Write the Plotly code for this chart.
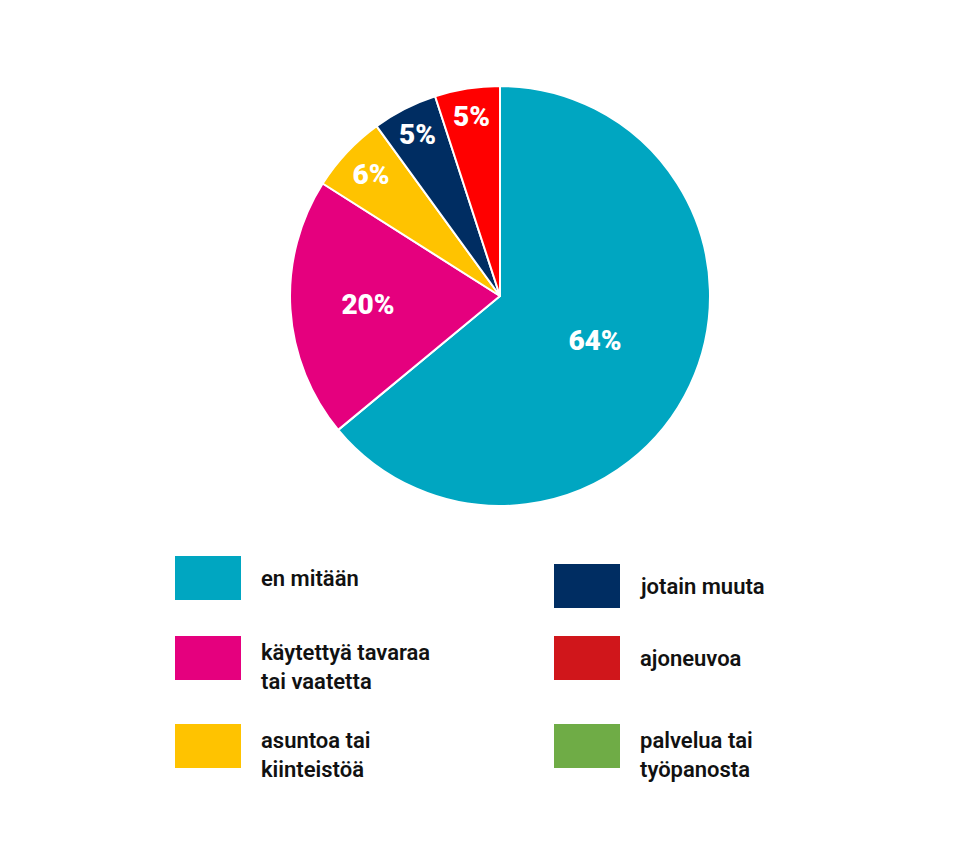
import plotly.graph_objects as go

labels = ["en mitään", "käytettyä tavaraa<br>tai vaatetta", "asuntoa tai<br>kiinteistöä",
          "jotain muuta", "ajoneuvoa", "palvelua tai<br>työpanosta"]
values = [64, 20, 6, 5, 5, 0]
pie_colors = ["#00A6C1", "#E5007E", "#FFC300", "#002D62", "#FF0000", "#6FAC46"]
legend_colors = ["#00A6C1", "#E5007E", "#FFC300", "#002D62", "#D0161B", "#6FAC46"]

W, H = 980, 857
fig = go.Figure(go.Pie(
    labels=labels, values=values, sort=False, direction="clockwise", rotation=0,
    marker=dict(colors=pie_colors, line=dict(color="white", width=2)),
    texttemplate="%{percent:.0%}", textposition="inside", insidetextorientation="horizontal",
    textfont=dict(family="Roboto", size=28, color="white", weight=900),
    domain=dict(x=[282/W, 702/W], y=[1-498/H, 1-78/H]),
    showlegend=False, hoverinfo="label+percent",
))

# legend layout: (square x0, square y0) in pixels
sq_pos = [(167, 548), (167, 628), (167, 716), (546, 556), (546, 628), (546, 716)]
shapes, annots = [], []
for (x0, y0), lab, col in zip(sq_pos, labels, legend_colors):
    shapes.append(dict(type="rect", xref="paper", yref="paper",
                       x0=x0/W, x1=(x0+66)/W, y0=1-(y0+44)/H, y1=1-y0/H,
                       fillcolor=col, line=dict(width=0)))
    n_lines = lab.count("<br>") + 1
    annots.append(dict(xref="paper", yref="paper", x=(x0+84)/W, y=1-(y0+2)/H if n_lines > 1 else 1-(y0+22)/H,
                       xanchor="left", yanchor="top" if n_lines > 1 else "middle",
                       text=lab, showarrow=False, align="left",
                       font=dict(family="Roboto", size=22, color="#111", weight=600)))

fig.update_layout(width=W, height=H, margin=dict(l=0, r=0, t=0, b=0),
                  paper_bgcolor="white", plot_bgcolor="white",
                  shapes=shapes, annotations=annots)
fig.write_html("out.html")
